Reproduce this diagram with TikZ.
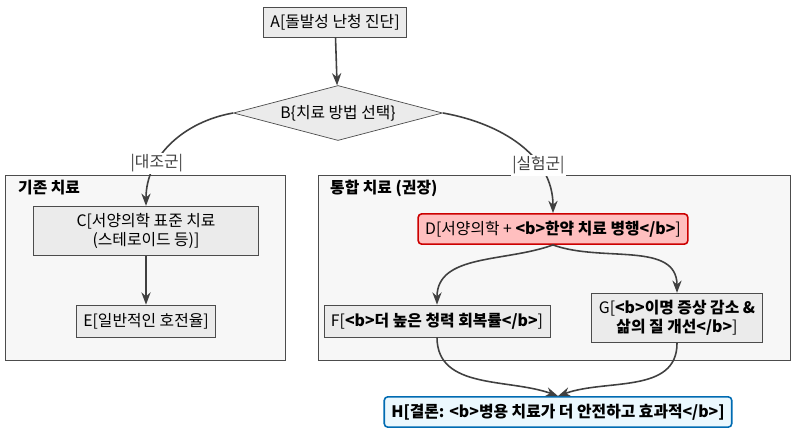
\documentclass[tikz,border=0pt]{standalone}
\usepackage{fontspec}
\setmainfont{Noto Sans CJK KR}
\usetikzlibrary{positioning,shapes.geometric,arrows.meta}

\tikzset{
  box/.style={draw=black!70, fill=black!8, inner sep=4pt, font=\small, align=center},
  redbox/.style={box, draw=red!80!black, fill=red!25, line width=0.9pt, rounded corners=2pt},
  bluebox/.style={box, draw=blue!40!cyan!70!black, fill=cyan!8, line width=0.9pt, rounded corners=2pt, font=\small\bfseries},
  cluster/.style={draw=black!70, fill=black!3},
  arr/.style={-{Stealth[length=7pt]}, line width=0.9pt, black!75},
}

\begin{document}
\begin{tikzpicture}[x=0.02cm,y=-0.02cm]
\useasboundingbox (0,0) rectangle (800,436);
% clusters
\draw [cluster] (5,175) rectangle (285,360);
\node [font=\small\bfseries, anchor=west] (lt) at (12,188) {기존 치료};
\draw [cluster] (318,175) rectangle (790,360);
\node [font=\small\bfseries, anchor=west] (rt) at (324,188) {통합 치료 (권장)};
% nodes
\node [box, minimum width=2.7cm] (A) at (335,22) {A[돌발성 난청 진단]};
\node [diamond, aspect=3.8, draw=black!70, fill=black!8, inner sep=2pt, font=\small] (B) at (338,113) {B\{치료 방법 선택\}};
\node [box, minimum width=4.5cm, minimum height=0.92cm] (C) at (146,231) {C[서양의학 표준 치료\\(스테로이드 등)]};
\node [box, minimum height=0.64cm] (E) at (146,321) {E[일반적인 호전율]};
\node [redbox, minimum height=0.6cm] (D) at (553,229) {D[서양의학 + \textbf{<b>한약 치료 병행</b>}]};
\node [box, minimum height=0.64cm] (F) at (437,321) {F[\textbf{<b>더 높은 청력 회복률</b>}]};
\node [box, minimum height=0.96cm] (G) at (677,318) {G[\textbf{<b>이명 증상 감소 \&}\\\textbf{삶의 질 개선</b>}]};
\node [bluebox, minimum height=0.6cm] (H) at (558,412) {H[결론: <b>병용 치료가 더 안전하고 효과적</b>]};
% edges
\draw [arr] (A) -- (B);
\draw [arr] (B.west) to[out=190,in=90] node[pos=0.68, fill=white, inner sep=1pt, font=\small] {|대조군|} (C.north);
\draw [arr] (B.east) to[out=-10,in=90] node[pos=0.68, fill=white, inner sep=1pt, font=\small] {|실험군|} (D.north);
\draw [arr] (C) -- (E);
\draw [arr] (D.south) to[out=200,in=90] (F.north);
\draw [arr] (D.south) to[out=-20,in=90] (G.north);
\draw [arr] (F.south) to[out=-90,in=160] (H.north);
\draw [arr] (G.south) to[out=-90,in=20] (H.north);
\end{tikzpicture}
\end{document}
